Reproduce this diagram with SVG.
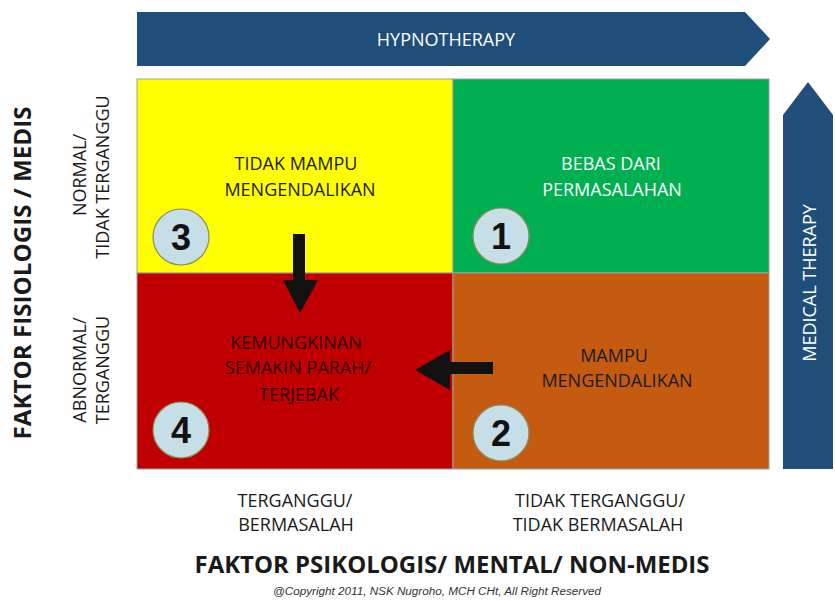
<svg xmlns="http://www.w3.org/2000/svg" width="835" height="601" viewBox="0 0 835 601">
<style>
.t{font-family:"Open Sans","Liberation Sans",sans-serif;font-size:18px;text-anchor:middle;}
.dk{fill:#1a1a1a;}
.wh{fill:#ffffff;}
.b{font-weight:bold;font-size:24px;}
.num{font-family:"Liberation Sans",Arial,sans-serif;font-weight:bold;font-size:36px;text-anchor:middle;fill:#111;}
.circ{fill:#C6DEE6;stroke:#8C8C5C;stroke-width:1.2;}
.band{fill:#1F4E79;}
.ar{fill:#111;}
</style>
<rect width="835" height="601" fill="#ffffff"/>
<g id="hypnotherapy">
<polygon class="band" points="137,12 745,12 770,39 745,66 137,66"/>
<text class="t wh" x="446" y="46">HYPNOTHERAPY</text>
</g>
<g id="medical-therapy">
<polygon class="band" points="783,469 783,115 808,82 833,115 833,469"/>
<text class="t wh" transform="translate(816,283) rotate(-90)">MEDICAL THERAPY</text>
</g>
<g id="q3">
<rect x="137" y="79" width="316" height="194" fill="#FFFF00" stroke="#A0A0A0" stroke-width="1"/>
<text class="t dk" x="296" y="170">TIDAK MAMPU</text>
<text class="t dk" x="300" y="196">MENGENDALIKAN</text>
<circle class="circ" cx="181" cy="237" r="28"/>
<text class="num" x="181" y="250">3</text>
</g>
<g id="q1">
<rect x="453" y="79" width="316" height="194" fill="#00B050" stroke="#A0A0A0" stroke-width="1"/>
<text class="t wh" x="611" y="170">BEBAS DARI</text>
<text class="t wh" x="612" y="196">PERMASALAHAN</text>
<circle class="circ" cx="501" cy="236" r="28"/>
<text class="num" x="501" y="249">1</text>
</g>
<g id="q4">
<rect x="137" y="273" width="316" height="196" fill="#C00000" stroke="#A0A0A0" stroke-width="1"/>
<text class="t" fill="#2a0000" x="296" y="349">KEMUNGKINAN</text>
<text class="t" fill="#2a0000" x="298" y="374">SEMAKIN PARAH/</text>
<text class="t" fill="#2a0000" x="299" y="401">TERJEBAK</text>
<circle class="circ" cx="181" cy="430" r="28"/>
<text class="num" x="181" y="443">4</text>
</g>
<g id="q2">
<rect x="453" y="273" width="316" height="196" fill="#C55A11" stroke="#A0A0A0" stroke-width="1"/>
<text class="t dk" x="614" y="362">MAMPU</text>
<text class="t dk" x="617" y="387">MENGENDALIKAN</text>
<circle class="circ" cx="501" cy="433" r="28"/>
<text class="num" x="501" y="446">2</text>
</g>
<g id="connectors">
<polygon class="ar" points="293,234 305,234 305,280 318,280 300,313 283,280 293,280"/>
<polygon class="ar" points="493,362 493,374 450,374 450,390 415,370 450,350 450,362"/>
</g>
<g id="axis-y">
<text class="t dk b" transform="translate(31,273) rotate(-90)" textLength="333" lengthAdjust="spacingAndGlyphs">FAKTOR FISIOLOGIS / MEDIS</text>
<text class="t dk" transform="translate(86,175) rotate(-90)">NORMAL/</text>
<text class="t dk" transform="translate(109,177) rotate(-90)">TIDAK TERGANGGU</text>
<text class="t dk" transform="translate(86,370) rotate(-90)">ABNORMAL/</text>
<text class="t dk" transform="translate(109,370) rotate(-90)">TERGANGGU</text>
</g>
<g id="axis-x">
<text class="t dk" x="295" y="507">TERGANGGU/</text>
<text class="t dk" x="296" y="531">BERMASALAH</text>
<text class="t dk" x="600" y="507">TIDAK TERGANGGU/</text>
<text class="t dk" x="598" y="531">TIDAK BERMASALAH</text>
<text class="t dk b" x="452" y="573" textLength="515" lengthAdjust="spacingAndGlyphs">FAKTOR PSIKOLOGIS/ MENTAL/ NON-MEDIS</text>
<text x="437" y="595" font-family="'Liberation Sans',Arial,sans-serif" font-style="italic" font-size="11.7" text-anchor="middle" fill="#333">@Copyright 2011, NSK Nugroho, MCH CHt, All Right Reserved</text>
</g>
</svg>
